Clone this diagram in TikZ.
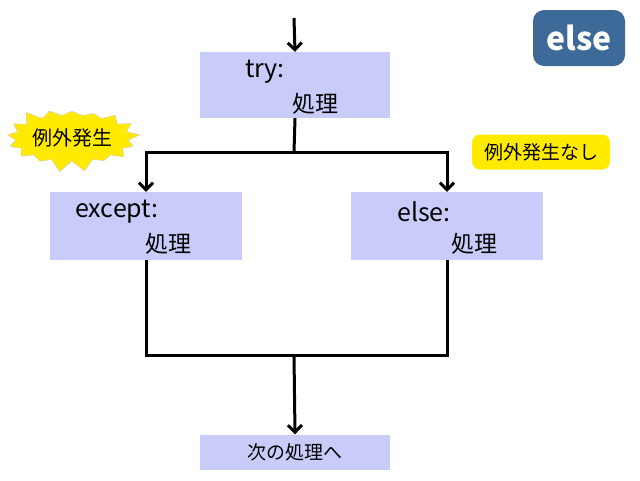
\documentclass[tikz,border=0pt]{standalone}
\usepackage{fontspec}
\setmainfont{Noto Sans CJK JP}
\usetikzlibrary{arrows.meta,shapes.symbols}
\definecolor{boxblue}{HTML}{C9CCF9}
\definecolor{badgeblue}{HTML}{3D6A99}
\definecolor{tagyellow}{HTML}{FFEA00}
\tikzset{
  block/.style={fill=boxblue, inner sep=0pt},
  flow/.style={draw, line width=3pt},
  flowarrow/.style={flow, -{Straight Barb[length=7pt,width=14pt]}}
}
\begin{document}
\begin{tikzpicture}[x=1pt,y=-1pt]
\path[use as bounding box] (0,0) rectangle (640,480);

\node[block,minimum width=190pt,minimum height=66pt] (try) at (295,85) {};
\node[block,minimum width=192pt,minimum height=68pt] (exc) at (146,226) {};
\node[block,minimum width=192pt,minimum height=68pt] (els) at (447,226) {};
\node[block,minimum width=190pt,minimum height=35pt] (next) at (295,452) {};

\node[font=\fontsize{25}{27}\selectfont] (trylabel) at (265,72) {try:};
\node[font=\fontsize{23}{25}\selectfont] (trybody) at (315,104) {処理};
\node[font=\fontsize{25}{27}\selectfont] (exclabel) at (117,212) {except:};
\node[font=\fontsize{23}{25}\selectfont] (excbody) at (168,244) {処理};
\node[font=\fontsize{25}{27}\selectfont] (elslabel) at (424,212) {else:};
\node[font=\fontsize{23}{25}\selectfont] (elsbody) at (474,244) {処理};
\node[font=\fontsize{19}{21}\selectfont] (nextlabel) at (295,452) {次の処理へ};

\coordinate (entry) at (294,18);
\coordinate (split) at (294,152);
\coordinate (merge) at (294,355);
\path[flowarrow] (entry) -- (try.north);
\path[flow] (try.south) -- (split);
\path[flowarrow] (split) -| (exc.north);
\path[flowarrow] (split) -| (els.north);
\path[flow] (exc.south) |- (merge) -| (els.south);
\path[flowarrow] (merge) -- (next.north);

\node[starburst, starburst points=17, starburst point height=12pt,
      random starburst=3, fill=tagyellow, draw=gray!40,
      minimum width=110pt, minimum height=70pt, inner sep=0pt,
      font=\fontsize{20}{22}\selectfont] (burst) at (72,138) {例外発生};
\node[fill=tagyellow, rounded corners=8pt, minimum width=138pt, minimum height=35pt,
      font=\fontsize{19}{21}\selectfont] (noexc) at (541,152) {例外発生なし};
\node[fill=badgeblue, rounded corners=11pt, minimum width=92pt, minimum height=56pt,
      text=white, font=\fontsize{32}{34}\selectfont\bfseries] (badge) at (579,38) {else};
\end{tikzpicture}
\end{document}
